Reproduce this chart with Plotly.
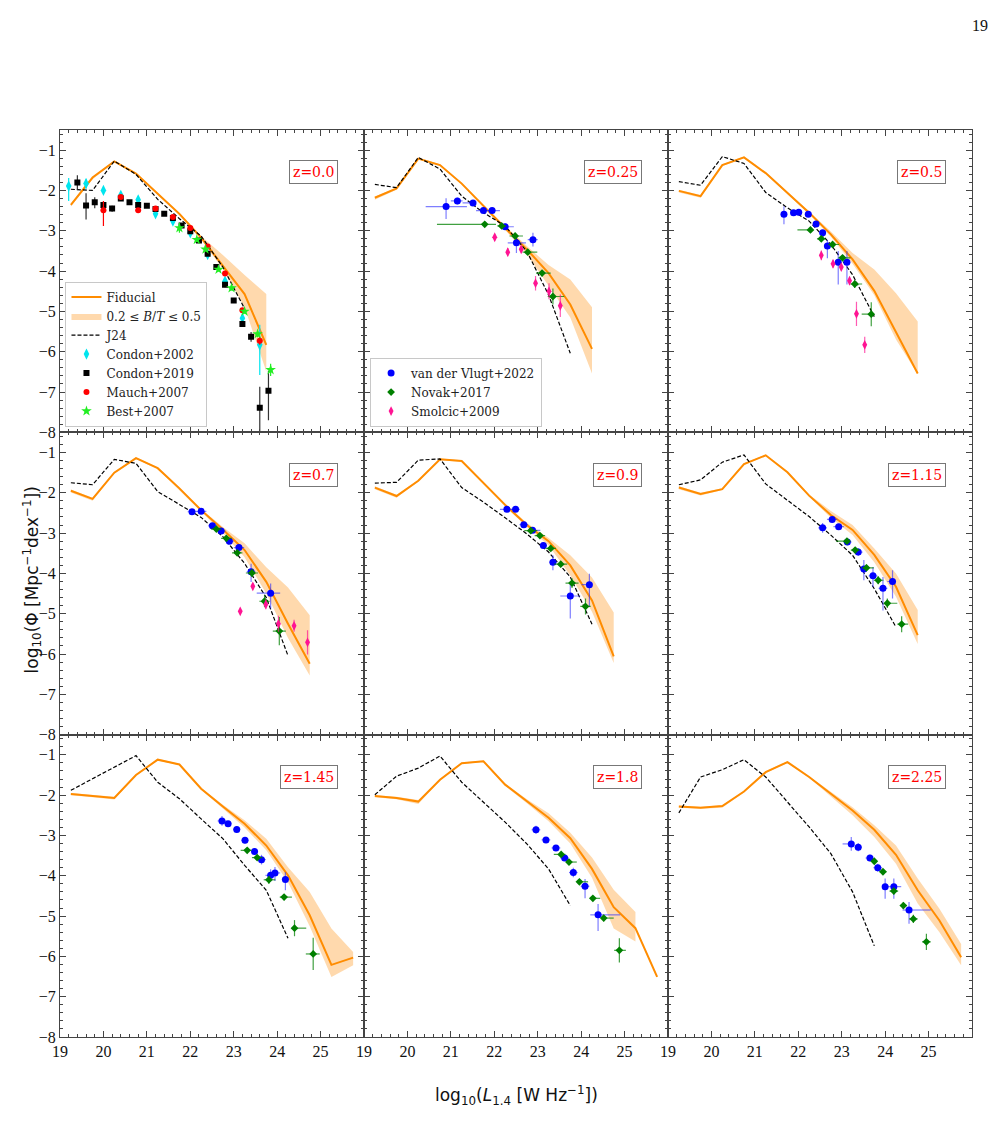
import plotly.graph_objects as go
from plotly.subplots import make_subplots

# ---------------- data ----------------
REDSHIFTS = [0.0, 0.25, 0.5, 0.7, 0.9, 1.15, 1.45, 1.8, 2.25]
Z_LABELS = ["z=0.0", "z=0.25", "z=0.5", "z=0.7", "z=0.9", "z=1.15", "z=1.45", "z=1.8", "z=2.25"]
X_TICKS = [19, 20, 21, 22, 23, 24, 25]
Y_TICKS = [-8, -7, -6, -5, -4, -3, -2, -1]

FID_X = {
    0.0: [19.25, 19.75, 20.25, 20.75, 21.25, 21.75, 22.25, 22.75, 23.25, 23.75],
    0.25: [19.25, 19.75, 20.25, 20.75, 21.25, 21.75, 22.25, 22.75, 23.25, 23.75, 24.25],
    0.5: [19.25, 19.75, 20.25, 20.75, 21.25, 21.75, 22.25, 22.75, 23.25, 23.75, 24.25, 24.75],
    0.7: [19.25, 19.75, 20.25, 20.75, 21.25, 21.75, 22.25, 22.75, 23.25, 23.75, 24.25, 24.75],
    0.9: [19.25, 19.75, 20.25, 20.75, 21.25, 21.75, 22.25, 22.75, 23.25, 23.75, 24.25, 24.75],
    1.15: [19.25, 19.75, 20.25, 20.75, 21.25, 21.75, 22.25, 22.75, 23.25, 23.75, 24.25, 24.75],
    1.45: [19.25, 19.75, 20.25, 20.75, 21.25, 21.75, 22.25, 22.75, 23.25, 23.75, 24.25, 24.75, 25.25, 25.75],
    1.8: [19.25, 19.75, 20.25, 20.75, 21.25, 21.75, 22.25, 22.75, 23.25, 23.75, 24.25, 24.75, 25.25, 25.75],
    2.25: [19.25, 19.75, 20.25, 20.75, 21.25, 21.75, 22.25, 22.75, 23.25, 23.75, 24.25, 24.75, 25.25, 25.75],
}
FID_Y = {
    0.0: [-2.36, -1.68, -1.28, -1.58, -2.08, -2.58, -3.17, -3.88, -4.57, -5.83],
    0.25: [-2.18, -1.95, -1.21, -1.37, -1.83, -2.39, -2.93, -3.46, -4.05, -4.83, -5.93],
    0.5: [-2.01, -2.14, -1.37, -1.18, -1.57, -2.05, -2.55, -3.09, -3.71, -4.49, -5.50, -6.54],
    0.7: [-1.95, -2.15, -1.50, -1.14, -1.39, -1.89, -2.43, -2.91, -3.42, -4.21, -5.25, -6.24],
    0.9: [-1.87, -2.08, -1.70, -1.17, -1.21, -1.76, -2.30, -2.80, -3.20, -3.80, -4.67, -6.06],
    1.15: [-1.87, -2.03, -1.91, -1.29, -1.07, -1.49, -2.07, -2.55, -2.92, -3.54, -4.33, -5.53],
    1.45: [-1.97, -2.02, -2.07, -1.50, -1.12, -1.24, -1.84, -2.28, -2.71, -3.25, -3.99, -4.98, -6.21, -6.03],
    1.8: [-2.02, -2.07, -2.16, -1.62, -1.21, -1.16, -1.74, -2.15, -2.56, -3.07, -3.83, -4.78, -5.30, -6.51],
    2.25: [-2.28, -2.31, -2.27, -1.91, -1.43, -1.18, -1.55, -1.97, -2.38, -2.86, -3.48, -4.36, -5.11, -6.02],
}
BAND_X = {
    0.0: [19.25, 19.75, 20.25, 20.75, 21.25, 21.75, 22.25, 22.75, 23.25, 23.75],
    0.25: [19.25, 19.75, 20.25, 20.75, 21.25, 21.75, 22.25, 22.75, 23.25, 23.75, 24.25],
    0.5: [19.25, 19.75, 20.25, 20.75, 21.25, 21.75, 22.25, 22.75, 23.25, 23.75, 24.25, 24.75],
    0.7: [19.25, 19.75, 20.25, 20.75, 21.25, 21.75, 22.25, 22.75, 23.25, 23.75, 24.25, 24.75],
    0.9: [19.25, 19.75, 20.25, 20.75, 21.25, 21.75, 22.25, 22.75, 23.25, 23.75, 24.25, 24.75],
    1.15: [19.25, 19.75, 20.25, 20.75, 21.25, 21.75, 22.25, 22.75, 23.25, 23.75, 24.25, 24.75],
    1.45: [19.25, 19.75, 20.25, 20.75, 21.25, 21.75, 22.25, 22.75, 23.25, 23.75, 24.25, 24.75, 25.25, 25.75],
    1.8: [19.25, 19.75, 20.25, 20.75, 21.25, 21.75, 22.25, 22.75, 23.25, 23.75, 24.25, 24.75, 25.25],
    2.25: [19.25, 19.75, 20.25, 20.75, 21.25, 21.75, 22.25, 22.75, 23.25, 23.75, 24.25, 24.75, 25.25, 25.75],
}
BAND_HI = {
    0.0: [-2.33, -1.66, -1.26, -1.56, -2.06, -2.56, -3.13, -3.60, -4.10, -4.57],
    0.25: [-2.15, -1.93, -1.19, -1.35, -1.81, -2.37, -2.88, -3.38, -3.85, -4.21, -4.90],
    0.5: [-1.98, -2.11, -1.35, -1.16, -1.55, -2.03, -2.52, -3.02, -3.55, -3.96, -4.55, -5.25],
    0.7: [-1.92, -2.12, -1.48, -1.12, -1.37, -1.87, -2.40, -2.85, -3.25, -3.85, -4.35, -5.04],
    0.9: [-1.84, -2.05, -1.68, -1.15, -1.19, -1.74, -2.27, -2.75, -3.12, -3.55, -4.10, -4.97],
    1.15: [-1.84, -2.00, -1.89, -1.27, -1.05, -1.47, -2.04, -2.45, -2.80, -3.38, -4.00, -4.91],
    1.45: [-1.95, -2.00, -2.04, -1.48, -1.10, -1.22, -1.82, -2.24, -2.62, -3.08, -3.79, -4.40, -5.31, -5.89],
    1.8: [-2.00, -2.04, -2.12, -1.60, -1.19, -1.14, -1.72, -2.10, -2.45, -2.93, -3.55, -4.35, -4.90],
    2.25: [-2.26, -2.29, -2.25, -1.89, -1.41, -1.16, -1.53, -1.92, -2.30, -2.75, -3.25, -4.07, -4.82, -5.69],
}
BAND_LO = {
    0.0: [-2.40, -1.72, -1.30, -1.60, -2.10, -2.62, -3.22, -3.95, -4.90, -6.49],
    0.25: [-2.23, -1.98, -1.23, -1.39, -1.85, -2.42, -2.98, -3.58, -4.35, -5.15, -6.54],
    0.5: [-2.05, -2.18, -1.39, -1.20, -1.59, -2.08, -2.59, -3.15, -3.82, -4.60, -5.70, -6.56],
    0.7: [-1.99, -2.20, -1.52, -1.16, -1.41, -1.92, -2.47, -3.00, -3.60, -4.50, -5.60, -6.53],
    0.9: [-1.91, -2.12, -1.72, -1.19, -1.23, -1.79, -2.34, -2.85, -3.30, -4.05, -4.95, -6.22],
    1.15: [-1.91, -2.07, -1.93, -1.31, -1.09, -1.51, -2.10, -2.62, -3.05, -3.72, -4.58, -5.75],
    1.45: [-2.00, -2.05, -2.11, -1.52, -1.14, -1.26, -1.86, -2.32, -2.80, -3.37, -4.16, -5.25, -6.51, -6.22],
    1.8: [-2.05, -2.10, -2.22, -1.64, -1.23, -1.18, -1.77, -2.20, -2.65, -3.20, -4.05, -5.31, -5.63],
    2.25: [-2.31, -2.34, -2.31, -1.93, -1.45, -1.20, -1.57, -2.03, -2.50, -3.04, -3.70, -4.69, -5.40, -6.22],
}
J24_X = {
    0.0: [19.25, 19.75, 20.25, 20.75, 21.25, 21.75, 22.25, 22.75, 23.25],
    0.25: [19.25, 19.75, 20.25, 20.75, 21.25, 21.75, 22.25, 22.75, 23.25, 23.75],
    0.5: [19.25, 19.75, 20.25, 20.75, 21.25, 21.75, 22.25, 22.75, 23.25, 23.75],
    0.7: [19.25, 19.75, 20.25, 20.75, 21.25, 21.75, 22.25, 22.75, 23.25, 23.75, 24.25],
    0.9: [19.25, 19.75, 20.25, 20.75, 21.25, 21.75, 22.25, 22.75, 23.25, 23.75, 24.25],
    1.15: [19.25, 19.75, 20.25, 20.75, 21.25, 21.75, 22.25, 22.75, 23.25, 23.75, 24.25],
    1.45: [19.25, 19.75, 20.25, 20.75, 21.25, 21.75, 22.25, 22.75, 23.25, 23.75, 24.25],
    1.8: [19.25, 19.75, 20.25, 20.75, 21.25, 21.75, 22.25, 22.75, 23.25, 23.75],
    2.25: [19.25, 19.75, 20.25, 20.75, 21.25, 21.75, 22.25, 22.75, 23.25, 23.75],
}
J24_Y = {
    0.0: [-1.97, -2.00, -1.27, -1.60, -2.22, -2.70, -3.13, -3.90, -4.93],
    0.25: [-1.85, -1.93, -1.18, -1.47, -2.14, -2.55, -2.88, -3.51, -4.59, -6.04],
    0.5: [-1.78, -1.87, -1.16, -1.33, -2.05, -2.43, -2.76, -3.34, -4.09, -5.13],
    0.7: [-1.75, -1.80, -1.17, -1.27, -1.97, -2.30, -2.61, -3.09, -3.75, -4.60, -6.04],
    0.9: [-1.76, -1.74, -1.19, -1.16, -1.87, -2.23, -2.62, -3.02, -3.47, -4.09, -5.26],
    1.15: [-1.80, -1.68, -1.24, -1.06, -1.78, -2.18, -2.59, -3.05, -3.55, -4.38, -5.33],
    1.45: [-1.88, -1.60, -1.31, -1.02, -1.68, -2.09, -2.59, -3.08, -3.74, -4.36, -5.55],
    1.8: [-1.99, -1.53, -1.33, -1.03, -1.68, -2.17, -2.67, -3.21, -3.83, -4.74],
    2.25: [-2.44, -1.55, -1.37, -1.12, -1.55, -2.17, -2.79, -3.45, -4.40, -5.74],
}

# z = 0 observations
C02_X = [19.2, 19.6, 20.0, 20.4, 20.8, 21.2, 21.6, 22.0, 22.4, 22.8, 23.2, 23.6]
C02_Y = [-1.89, -1.83, -2.00, -2.12, -2.23, -2.58, -2.76, -3.05, -3.59, -4.25, -5.17, -5.83]
C02_EP = [0.20, 0.12, 0.06, 0.05, 0.05, 0.05, 0.05, 0.05, 0.06, 0.08, 0.12, 0.50]
C02_EM = [0.37, 0.12, 0.06, 0.05, 0.05, 0.05, 0.05, 0.05, 0.06, 0.08, 0.12, 0.75]
C19_X = [19.4, 19.6, 19.8, 20.0, 20.2, 20.4, 20.6, 20.8, 21.0, 21.2, 21.4, 21.6, 21.8, 22.0,
         22.2, 22.4, 22.6, 22.8, 23.0, 23.2, 23.4, 23.6, 23.8]
C19_Y = [-1.80, -2.37, -2.29, -2.36, -2.45, -2.20, -2.29, -2.36, -2.38, -2.46, -2.58, -2.68, -2.87, -3.01,
         -3.24, -3.57, -3.90, -4.34, -4.73, -5.31, -5.63, -7.39, -6.97]
C19_EP = [0.18, 0.30, 0.12, 0.08, 0.07, 0.05, 0.04, 0.04, 0.04, 0.04, 0.04, 0.04, 0.04, 0.04,
          0.04, 0.05, 0.05, 0.06, 0.06, 0.08, 0.12, 0.52, 0.50]
C19_EM = [0.18, 0.35, 0.15, 0.10, 0.08, 0.05, 0.04, 0.04, 0.04, 0.04, 0.04, 0.04, 0.04, 0.04,
          0.04, 0.05, 0.05, 0.06, 0.06, 0.08, 0.12, 0.68, 0.73]
MAU_X = [20.0, 20.4, 20.8, 21.2, 21.6, 22.0, 22.4, 22.8, 23.2, 23.6]
MAU_Y = [-2.49, -2.16, -2.49, -2.45, -2.66, -2.93, -3.39, -4.06, -4.97, -5.73]
MAU_EP = [0.23, 0.05, 0.04, 0.04, 0.04, 0.04, 0.04, 0.05, 0.05, 0.10]
MAU_EM = [0.39, 0.05, 0.04, 0.04, 0.04, 0.04, 0.04, 0.05, 0.05, 0.10]
BES_X = [21.75, 22.15, 22.35, 22.65, 22.95, 23.25, 23.55, 23.85]
BES_Y = [-2.93, -3.22, -3.46, -3.96, -4.42, -5.00, -5.56, -6.45]
BES_E = [0.12, 0.05, 0.05, 0.05, 0.06, 0.06, 0.08, 0.15]

# van der Vlugt+2022
VDV_X = {
    0.25: [20.89, 21.15, 21.51, 21.75, 21.95, 22.25, 22.51, 22.89],
    0.5: [21.67, 21.89, 22.01, 22.23, 22.41, 22.56, 22.67, 22.92, 23.12],
    0.7: [22.04, 22.25, 22.51, 22.71, 22.90, 23.12, 23.40, 23.85],
    0.9: [22.29, 22.49, 22.68, 22.88, 23.13, 23.35, 23.75, 24.19],
    1.15: [22.56, 22.78, 22.93, 23.13, 23.38, 23.51, 23.72, 23.95, 24.17],
    1.45: [22.73, 22.87, 23.07, 23.26, 23.48, 23.64, 23.85, 23.95, 24.19],
    1.8: [22.96, 23.19, 23.42, 23.62, 23.82, 24.09, 24.39],
    2.25: [23.22, 23.38, 23.65, 23.83, 24.00, 24.20, 24.55],
}
VDV_Y = {
    0.25: [-2.40, -2.26, -2.31, -2.50, -2.50, -2.90, -3.30, -3.22],
    0.5: [-2.59, -2.55, -2.54, -2.59, -2.83, -3.05, -3.38, -3.78, -3.78],
    0.7: [-2.47, -2.46, -2.82, -2.95, -3.20, -3.36, -3.96, -4.49],
    0.9: [-2.41, -2.41, -2.79, -2.93, -3.31, -3.72, -4.56, -4.28],
    1.15: [-2.87, -2.66, -2.84, -3.22, -3.47, -3.89, -4.06, -4.37, -4.20],
    1.45: [-2.64, -2.71, -2.85, -3.12, -3.40, -3.60, -3.99, -3.93, -4.09],
    1.8: [-2.86, -3.11, -3.31, -3.56, -3.92, -4.26, -4.97],
    2.25: [-3.21, -3.29, -3.56, -3.80, -4.27, -4.27, -4.85],
}
VDV_XERR_M = {
    0.25: [0.47, 0.15, 0.24, 0.17, 0.11, 0.13, 0.20, 0.12],
    0.5: [0.06, 0.06, 0.06, 0.06, 0.06, 0.06, 0.06, 0.06, 0.06],
    0.7: [0.10, 0.12, 0.10, 0.10, 0.10, 0.12, 0.10, 0.32],
    0.9: [0.16, 0.10, 0.10, 0.10, 0.08, 0.08, 0.23, 0.18],
    1.15: [0.10, 0.12, 0.12, 0.10, 0.10, 0.10, 0.10, 0.10, 0.12],
    1.45: [0.10, 0.08, 0.08, 0.08, 0.08, 0.10, 0.12, 0.12, 0.08],
    1.8: [0.10, 0.10, 0.10, 0.10, 0.10, 0.10, 0.18],
    2.25: [0.20, 0.08, 0.10, 0.10, 0.05, 0.15, 0.15],
}
VDV_XERR_P = {
    0.25: [0.48, 0.12, 0.07, 0.18, 0.18, 0.20, 0.22, 0.11],
    0.5: [0.06, 0.06, 0.06, 0.06, 0.06, 0.06, 0.06, 0.06, 0.06],
    0.7: [0.10, 0.12, 0.10, 0.10, 0.10, 0.12, 0.10, 0.22],
    0.9: [0.14, 0.10, 0.10, 0.18, 0.08, 0.08, 0.23, 0.02],
    1.15: [0.10, 0.12, 0.12, 0.10, 0.10, 0.10, 0.10, 0.10, 0.04],
    1.45: [0.10, 0.08, 0.08, 0.08, 0.08, 0.10, 0.12, 0.12, 0.08],
    1.8: [0.10, 0.10, 0.10, 0.10, 0.10, 0.10, 0.51],
    2.25: [0.06, 0.08, 0.05, 0.10, 0.05, 0.17, 0.50],
}
VDV_YERR_P = {
    0.25: [0.21, 0.08, 0.06, 0.06, 0.06, 0.08, 0.13, 0.17],
    0.5: [0.20, 0.06, 0.06, 0.06, 0.06, 0.06, 0.15, 0.28, 0.28],
    0.7: [0.06, 0.05, 0.05, 0.05, 0.05, 0.06, 0.20, 0.24],
    0.9: [0.05, 0.05, 0.05, 0.06, 0.08, 0.17, 0.30, 0.27],
    1.15: [0.12, 0.06, 0.06, 0.08, 0.10, 0.22, 0.22, 0.28, 0.28],
    1.45: [0.12, 0.07, 0.07, 0.08, 0.08, 0.12, 0.15, 0.15, 0.18],
    1.8: [0.10, 0.06, 0.06, 0.06, 0.12, 0.18, 0.27],
    2.25: [0.17, 0.10, 0.08, 0.10, 0.20, 0.20, 0.20],
}
VDV_YERR_M = {
    0.25: [0.31, 0.08, 0.06, 0.06, 0.06, 0.08, 0.25, 0.17],
    0.5: [0.25, 0.06, 0.06, 0.06, 0.06, 0.06, 0.30, 0.55, 0.55],
    0.7: [0.06, 0.05, 0.05, 0.05, 0.05, 0.06, 0.25, 0.38],
    0.9: [0.05, 0.05, 0.05, 0.06, 0.08, 0.20, 0.56, 0.55],
    1.15: [0.12, 0.06, 0.06, 0.08, 0.10, 0.28, 0.28, 0.55, 0.42],
    1.45: [0.12, 0.07, 0.07, 0.08, 0.08, 0.12, 0.15, 0.20, 0.27],
    1.8: [0.10, 0.06, 0.06, 0.06, 0.12, 0.30, 0.40],
    2.25: [0.17, 0.10, 0.08, 0.10, 0.30, 0.30, 0.34],
}

# Novak+2017
NOV_X = {
    0.25: [21.78, 22.17, 22.48, 22.77, 23.10, 23.35],
    0.5: [22.28, 22.53, 22.79, 23.02, 23.30, 23.68],
    0.7: [22.60, 22.83, 23.08, 23.42, 23.71, 24.05],
    0.9: [22.84, 23.05, 23.30, 23.53, 23.79, 24.10],
    1.15: [23.12, 23.31, 23.57, 23.84, 24.05, 24.38],
    1.45: [23.31, 23.54, 23.81, 24.16, 24.40, 24.83],
    1.8: [23.54, 23.72, 23.96, 24.27, 24.52, 24.88],
    2.25: [23.75, 23.95, 24.20, 24.42, 24.65, 24.95],
}
NOV_Y = {
    0.25: [-2.84, -2.88, -3.13, -3.53, -4.05, -4.63],
    0.5: [-2.98, -3.20, -3.34, -3.67, -4.32, -5.07],
    0.7: [-2.90, -3.13, -3.49, -3.99, -4.69, -5.43],
    0.9: [-2.94, -3.06, -3.38, -3.77, -4.24, -4.82],
    1.15: [-3.20, -3.42, -3.86, -4.17, -4.74, -5.26],
    1.45: [-3.37, -3.55, -4.10, -4.53, -5.30, -5.94],
    1.8: [-3.47, -3.66, -4.15, -4.56, -5.05, -5.85],
    2.25: [-3.64, -3.90, -4.38, -4.74, -5.07, -5.64],
}
NOV_XERR_M = {
    0.25: [1.10, 0.10, 0.13, 0.12, 0.14, 0.12],
    0.5: [0.30, 0.10, 0.10, 0.10, 0.10, 0.22],
    0.7: [0.12, 0.12, 0.12, 0.14, 0.12, 0.15],
    0.9: [0.15, 0.12, 0.12, 0.15, 0.15, 0.12],
    1.15: [0.25, 0.10, 0.10, 0.10, 0.05, 0.10],
    1.45: [0.15, 0.12, 0.12, 0.10, 0.05, 0.17],
    1.8: [0.17, 0.05, 0.05, 0.07, 0.05, 0.12],
    2.25: [0.06, 0.08, 0.10, 0.08, 0.10, 0.10],
}
NOV_XERR_P = {
    0.25: [0.26, 0.10, 0.18, 0.22, 0.20, 0.26],
    0.5: [0.05, 0.10, 0.15, 0.18, 0.17, 0.05],
    0.7: [0.12, 0.12, 0.12, 0.14, 0.12, 0.15],
    0.9: [0.15, 0.12, 0.12, 0.15, 0.15, 0.12],
    1.15: [0.05, 0.10, 0.17, 0.12, 0.23, 0.15],
    1.45: [0.10, 0.12, 0.15, 0.18, 0.27, 0.15],
    1.8: [0.10, 0.18, 0.20, 0.17, 0.23, 0.15],
    2.25: [0.06, 0.08, 0.10, 0.08, 0.10, 0.10],
}
NOV_YERR = {
    0.25: [0.06, 0.05, 0.06, 0.06, 0.08, 0.20],
    0.5: [0.06, 0.06, 0.06, 0.07, 0.10, 0.30],
    0.7: [0.05, 0.05, 0.06, 0.10, 0.15, 0.35],
    0.9: [0.05, 0.05, 0.06, 0.08, 0.12, 0.20],
    1.15: [0.05, 0.06, 0.08, 0.10, 0.12, 0.20],
    1.45: [0.06, 0.06, 0.10, 0.08, 0.20, 0.40],
    1.8: [0.06, 0.06, 0.06, 0.06, 0.08, 0.30],
    2.25: [0.06, 0.06, 0.08, 0.08, 0.10, 0.20],
}

# Smolcic+2009
SMO_X = {
    0.25: [22.01, 22.31, 22.62, 22.95, 23.26, 23.52],
    0.5: [22.53, 22.80, 22.99, 23.18, 23.34, 23.53],
    0.7: [23.15, 23.44, 23.74, 24.03, 24.39, 24.70],
}
SMO_Y = {
    0.25: [-3.16, -3.53, -3.46, -4.30, -4.50, -4.86],
    0.5: [-3.61, -3.82, -3.90, -4.24, -5.06, -5.83],
    0.7: [-4.94, -4.32, -4.77, -5.25, -5.30, -5.71],
}
SMO_YERR = {
    0.25: [0.08, 0.10, 0.08, 0.18, 0.20, 0.28],
    0.5: [0.12, 0.10, 0.08, 0.10, 0.30, 0.20],
    0.7: [0.06, 0.08, 0.12, 0.20, 0.15, 0.30],
}

# ---------------- style ----------------
ORANGE = "#FF8C00"
BAND_COLOR = "rgba(255,160,50,0.40)"
SERIF = "DejaVu Serif"
TICK_FONT = dict(family="Liberation Serif", size=16, color="#111")
AXIS_COLOR = "#444"


def errbar(plus, minus, color, thick=1.2):
    return dict(type="data", array=plus, arrayminus=minus, symmetric=False,
                color=color, thickness=thick, width=0)


fig = make_subplots(rows=3, cols=3, shared_xaxes=True, shared_yaxes=True,
                    horizontal_spacing=0, vertical_spacing=0)

for i, z in enumerate(REDSHIFTS):
    r, c = i // 3 + 1, i % 3 + 1
    first = i == 0
    bx = BAND_X[z]
    fig.add_trace(go.Scatter(
        x=bx + bx[::-1], y=BAND_HI[z] + BAND_LO[z][::-1], mode="lines",
        fill="toself", fillcolor=BAND_COLOR, line=dict(width=0, color=BAND_COLOR),
        name="0.2 ≤ <i>B</i>/<i>T</i> ≤ 0.5", legend="legend", legendrank=2,
        showlegend=first, hoverinfo="skip"), row=r, col=c)
    fig.add_trace(go.Scatter(
        x=FID_X[z], y=FID_Y[z], mode="lines", line=dict(color=ORANGE, width=2),
        name="Fiducial", legend="legend", legendrank=1, showlegend=first), row=r, col=c)
    fig.add_trace(go.Scatter(
        x=J24_X[z], y=J24_Y[z], mode="lines",
        line=dict(color="black", width=1.2, dash="4px,2px"),
        name="J24", legend="legend", legendrank=3, showlegend=first), row=r, col=c)

    if z == 0.0:
        fig.add_trace(go.Scatter(
            x=C02_X, y=C02_Y, mode="markers", name="Condon+2002", legend="legend", legendrank=4,
            marker=dict(symbol="diamond-tall", size=8, color="#00E5EE"),
            error_y=errbar(C02_EP, C02_EM, "#00E5EE")), row=r, col=c)
        fig.add_trace(go.Scatter(
            x=C19_X, y=C19_Y, mode="markers", name="Condon+2019", legend="legend", legendrank=5,
            marker=dict(symbol="square", size=6, color="black"),
            error_y=errbar(C19_EP, C19_EM, "#333")), row=r, col=c)
        fig.add_trace(go.Scatter(
            x=MAU_X, y=MAU_Y, mode="markers", name="Mauch+2007", legend="legend", legendrank=6,
            marker=dict(symbol="circle", size=6, color="red"),
            error_y=errbar(MAU_EP, MAU_EM, "red")), row=r, col=c)
        fig.add_trace(go.Scatter(
            x=BES_X, y=BES_Y, mode="markers", name="Best+2007", legend="legend", legendrank=7,
            marker=dict(symbol="star", size=8, color="#22EE22"),
            error_y=errbar(BES_E, BES_E, "#22EE22")), row=r, col=c)
    else:
        second = z == 0.25
        fig.add_trace(go.Scatter(
            x=VDV_X[z], y=VDV_Y[z], mode="markers", name="van der Vlugt+2022",
            legend="legend2", legendrank=1, showlegend=second,
            marker=dict(symbol="circle", size=7, color="blue"),
            error_x=errbar(VDV_XERR_P[z], VDV_XERR_M[z], "rgba(40,40,255,0.6)"),
            error_y=errbar(VDV_YERR_P[z], VDV_YERR_M[z], "rgba(40,40,255,0.6)")), row=r, col=c)
        fig.add_trace(go.Scatter(
            x=NOV_X[z], y=NOV_Y[z], mode="markers", name="Novak+2017",
            legend="legend2", legendrank=2, showlegend=second,
            marker=dict(symbol="diamond", size=6, color="green"),
            error_x=errbar(NOV_XERR_P[z], NOV_XERR_M[z], "rgba(0,128,0,0.75)"),
            error_y=errbar(NOV_YERR[z], NOV_YERR[z], "rgba(0,128,0,0.75)")), row=r, col=c)
        if z in SMO_X:
            fig.add_trace(go.Scatter(
                x=SMO_X[z], y=SMO_Y[z], mode="markers", name="Smolcic+2009",
                legend="legend2", legendrank=3, showlegend=second,
                marker=dict(symbol="diamond-tall", size=7, color="#FF1493"),
                error_y=errbar(SMO_YERR[z], SMO_YERR[z], "rgba(255,20,147,0.7)")), row=r, col=c)

    sfx = "" if i == 0 else str(i + 1)
    fig.add_annotation(
        text=Z_LABELS[i], xref=f"x{sfx} domain", yref=f"y{sfx} domain",
        x=0.915, y=0.9, xanchor="right", yanchor="top", showarrow=False,
        font=dict(family=SERIF, size=14, color="red"),
        bgcolor="white", bordercolor="#777", borderwidth=1, borderpad=3)

axis_common = dict(
    ticks="inside", ticklen=6, tickwidth=1, tickcolor=AXIS_COLOR,
    mirror="allticks", showline=True, linecolor=AXIS_COLOR, linewidth=1,
    showgrid=False, zeroline=False, tickfont=TICK_FONT,
)
fig.update_xaxes(range=[19, 26], tickvals=X_TICKS,
                 minor=dict(ticks="inside", ticklen=3, tickcolor=AXIS_COLOR, tick0=19, dtick=0.2, showgrid=False),
                 **axis_common)
fig.update_yaxes(range=[-8, -0.5], tickvals=Y_TICKS, tickformat="d",
                 minor=dict(ticks="inside", ticklen=3, tickcolor=AXIS_COLOR, tick0=-8, dtick=0.2, showgrid=False),
                 **axis_common)

legend_common = dict(
    xanchor="left", yanchor="bottom", bgcolor="rgba(255,255,255,0.85)",
    bordercolor="#c8c8c8", borderwidth=1, font=dict(family=SERIF, size=12, color="#222"),
    traceorder="normal", itemwidth=30, tracegroupgap=0,
)
fig.update_layout(
    width=1005, height=1130, paper_bgcolor="white", plot_bgcolor="white",
    margin=dict(l=60, r=33, t=130, b=93),
    legend=dict(x=0.006, y=0.673, **legend_common),
    legend2=dict(x=0.34, y=0.673, **legend_common),
)

fig.add_annotation(text="log<sub>10</sub>(Φ [Mpc<sup>−1</sup>dex<sup>−1</sup>])",
                   xref="paper", yref="paper", x=-0.046, y=0.504, textangle=-90,
                   showarrow=False, font=dict(family="DejaVu Sans", size=17, color="#111"))
fig.add_annotation(text="log<sub>10</sub>(<i>L</i><sub>1.4</sub> [W Hz<sup>−1</sup>])",
                   xref="paper", yref="paper", x=0.5, y=-0.064, yanchor="middle",
                   showarrow=False, font=dict(family="DejaVu Sans", size=17, color="#111"))
fig.add_annotation(text="19", xref="paper", yref="paper", x=1.02, y=1.127,
                   showarrow=False, font=dict(family="Liberation Serif", size=16, color="#111"))

fig.write_html("out.html")
